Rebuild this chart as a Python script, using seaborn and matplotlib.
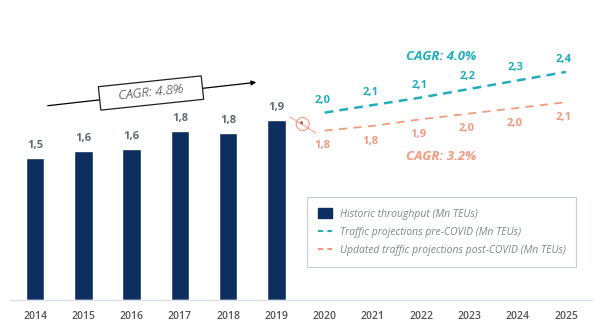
import matplotlib
matplotlib.use("Agg")
import matplotlib.pyplot as plt
import seaborn as sns
import pandas as pd
from matplotlib.patches import Patch, FancyArrowPatch, Ellipse
from matplotlib.lines import Line2D

years = ["2014", "2015", "2016", "2017", "2018", "2019",
         "2020", "2021", "2022", "2023", "2024", "2025"]
hist_years = ["2014", "2015", "2016", "2017", "2018", "2019"]
hist_values = [1.50, 1.57, 1.60, 1.79, 1.76, 1.90]
proj_years = ["2020", "2021", "2022", "2023", "2024", "2025"]
pre_covid = [1.98, 2.06, 2.14, 2.23, 2.32, 2.41]
post_covid = [1.79, 1.84, 1.91, 1.97, 2.03, 2.09]
legend_labels = ["Historic throughput (Mn TEUs)",
                 "Traffic projections pre-COVID (Mn TEUs)",
                 "Updated traffic projections post-COVID (Mn TEUs)"]
cagr_hist = "CAGR: 4.8%"
cagr_pre = "CAGR: 4.0%"
cagr_post = "CAGR: 3.2%"

NAVY = "#0c2f5f"
TEAL = "#22adbd"
SALMON = "#f29a80"
GRAY = "#5f6b77"

sns.set_theme(style="white")
plt.rcParams["font.family"] = ["Open Sans", "DejaVu Sans"]

fig = plt.figure(figsize=(6, 3.28), dpi=100)
ax = fig.add_axes([10 / 600, 1 - 300 / 328, 582 / 600, 300 / 328])

df_hist = pd.DataFrame({"year": hist_years, "value": hist_values})
sns.barplot(data=df_hist, x="year", y="value", order=years, color=NAVY,
            width=0.38, saturation=1, ax=ax)


def fmt(v):
    return f"{v:.1f}".replace(".", ",")


for y, v in zip(hist_years, hist_values):
    xi = years.index(y)
    ax.annotate(fmt(v), (xi, v), xytext=(0, 5), textcoords="offset points",
                ha="center", va="bottom", fontsize=8, fontweight="bold",
                color=GRAY)

px = [years.index(y) for y in proj_years]
df_pre = pd.DataFrame({"x": px, "value": pre_covid})
df_post = pd.DataFrame({"x": px, "value": post_covid})
sns.lineplot(data=df_pre, x="x", y="value", color=TEAL, lw=1.8,
             linestyle=(0, (3.5, 2.5)), ax=ax)
sns.lineplot(data=df_post, x="x", y="value", color=SALMON, lw=1.3,
             linestyle=(0, (4.5, 3.5)), ax=ax)

for xi, v in zip(px, pre_covid):
    ax.annotate(fmt(v), (xi, v), xytext=(-1.5, 5), textcoords="offset points",
                ha="center", va="bottom", fontsize=8, fontweight="bold",
                color=TEAL)
for xi, v in zip(px, post_covid):
    ax.annotate(fmt(v), (xi, v), xytext=(-2, -7), textcoords="offset points",
                ha="center", va="top", fontsize=8, fontweight="bold",
                color=SALMON)

ax.set_xlim(-0.52, 11.54)
ax.set_ylim(0, 3.17)
ax.set_xlabel("")
ax.set_ylabel("")
ax.set_yticks([])
ax.tick_params(axis="x", length=0, pad=8, labelsize=7.5, labelcolor="#555555")
for lbl in ax.get_xticklabels():
    lbl.set_fontweight("semibold")
for s in ["top", "right", "left"]:
    ax.spines[s].set_visible(False)
ax.spines["bottom"].set_color("#dde1e6")
ax.spines["bottom"].set_linewidth(1)

# historic CAGR arrow with boxed label
fig.add_artist(FancyArrowPatch(
    (45 / 600, 1 - 106 / 328), (259 / 600, 1 - 82 / 328),
    transform=fig.transFigure, arrowstyle="-|>", mutation_scale=7,
    color="black", lw=0.9))
fig.text(151 / 600, 1 - 93 / 328, "    " + cagr_hist + "    ",
         ha="center", va="center", rotation=6, fontsize=9.5,
         style="italic", fontweight="light", color="#222222",
         bbox=dict(boxstyle="square,pad=0.4", fc="white", ec="#222222",
                   lw=0.9))

fig.text(441 / 600, 1 - 57 / 328, cagr_pre, ha="center", va="center",
         fontsize=9.5, fontweight="bold", style="italic", color=TEAL)
fig.text(441 / 600, 1 - 156 / 328, cagr_post, ha="center", va="center",
         fontsize=9.5, fontweight="bold", style="italic", color=SALMON)

# small marker linking 2019 to post-COVID line
fig.add_artist(Line2D([290 / 600, 316 / 600],
                      [1 - 117 / 328, 1 - 133 / 328],
                      transform=fig.transFigure, color=SALMON, lw=0.7))
fig.add_artist(Ellipse((302.7 / 600, 1 - 124 / 328), 13 / 600, 13 / 328,
                       transform=fig.transFigure, fc="white", ec=SALMON,
                       lw=0.8))
fig.add_artist(FancyArrowPatch(
    (300 / 600, 1 - 121 / 328), (305 / 600, 1 - 127 / 328),
    transform=fig.transFigure, arrowstyle="-|>", mutation_scale=4,
    color="#b03a2e", lw=0.7))

handles = [Patch(facecolor=NAVY, edgecolor=NAVY),
           Line2D([0], [0], color=TEAL, lw=1.5, linestyle=(0, (2.5, 2))),
           Line2D([0], [0], color=SALMON, lw=1.5, linestyle=(0, (2.5, 2)))]
leg = fig.legend(handles, legend_labels, loc="upper left",
                 bbox_to_anchor=(307 / 600, 1 - 197 / 328),
                 frameon=True, fancybox=False, fontsize=7.45,
                 handlelength=1.4, handleheight=1.15, labelspacing=0.65,
                 borderpad=1.05, handletextpad=0.7, borderaxespad=0)
leg.get_frame().set_edgecolor("#b8c0c8")
leg.get_frame().set_linewidth(0.8)
for t in leg.get_texts():
    t.set_color("#7f8790")
    t.set_style("italic")

fig.savefig("out.png", dpi=100, facecolor="white")
